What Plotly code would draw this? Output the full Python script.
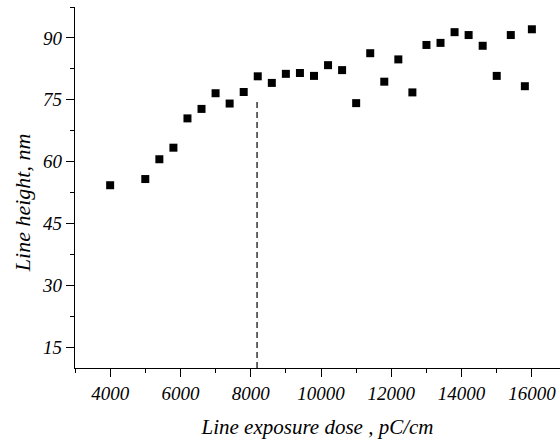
import plotly.graph_objects as go

dose = [4000, 5000, 5400, 5800, 6200, 6600, 7000, 7400, 7800, 8200, 8600, 9000, 9400,
        9800, 10200, 10600, 11000, 11400, 11800, 12200, 12600, 13000, 13400, 13800,
        14200, 14600, 15000, 15400, 15800, 16000]
height = [54.3, 55.8, 60.6, 63.4, 70.5, 72.8, 76.6, 74.1, 76.9, 80.7, 79.1, 81.3, 81.5,
          80.8, 83.4, 82.2, 74.2, 86.3, 79.4, 84.8, 76.8, 88.3, 88.8, 91.4,
          90.7, 88.1, 80.8, 90.7, 78.3, 92.1]
threshold_x = [8180, 8180]
threshold_y = [10, 75]

x_ticks = [4000, 6000, 8000, 10000, 12000, 14000, 16000]
y_ticks = [15, 30, 45, 60, 75, 90]

font = dict(family="Liberation Serif", size=19, color="black", style="italic")
xtitle_font = dict(family="Liberation Serif", size=21, color="black", style="italic")
ytitle_font = dict(family="Liberation Serif", size=22, color="black", style="italic")

fig = go.Figure()
fig.add_trace(go.Scatter(x=threshold_x, y=threshold_y, mode="lines",
                         line=dict(color="black", width=1.2, dash="6px,4px"),
                         hoverinfo="skip", showlegend=False))
fig.add_trace(go.Scatter(x=dose, y=height, mode="markers",
                         marker=dict(symbol="square", size=8, color="black"),
                         showlegend=False))

fig.update_layout(
    width=560, height=441,
    margin=dict(l=75, r=0, t=7, b=73),
    paper_bgcolor="white", plot_bgcolor="white",
    font=font,
    xaxis=dict(range=[3000, 16800], tickvals=x_ticks, ticktext=[str(v) for v in x_ticks],
               automargin=False,
               showgrid=False, zeroline=False, showline=True, linecolor="black", linewidth=1.3,
               ticks="outside", ticklen=8, tickwidth=1.3, tickcolor="black",
               minor=dict(dtick=1000, tick0=0, ticks="outside", ticklen=4, tickwidth=1.3, tickcolor="black"),
               tickfont=font,
               title=dict(text="Line exposure dose , pC/cm", font=xtitle_font, standoff=16)),
    yaxis=dict(range=[10, 97.5], tickvals=y_ticks, ticktext=[str(v) for v in y_ticks],
               automargin=False,
               showgrid=False, zeroline=False, showline=True, linecolor="black", linewidth=1.3,
               ticks="outside", ticklen=8, tickwidth=1.3, tickcolor="black",
               minor=dict(dtick=7.5, tick0=0, ticks="outside", ticklen=4, tickwidth=1.3, tickcolor="black"),
               tickfont=font),
    annotations=[dict(text="Line height, nm", textangle=-90, showarrow=False,
                      xref="paper", yref="paper", x=-0.109, y=0.457,
                      xanchor="center", yanchor="middle", font=ytitle_font)],
)

fig.write_html("out.html", config={"displayModeBar": False},
               post_script="document.body.style.margin='0px';")
